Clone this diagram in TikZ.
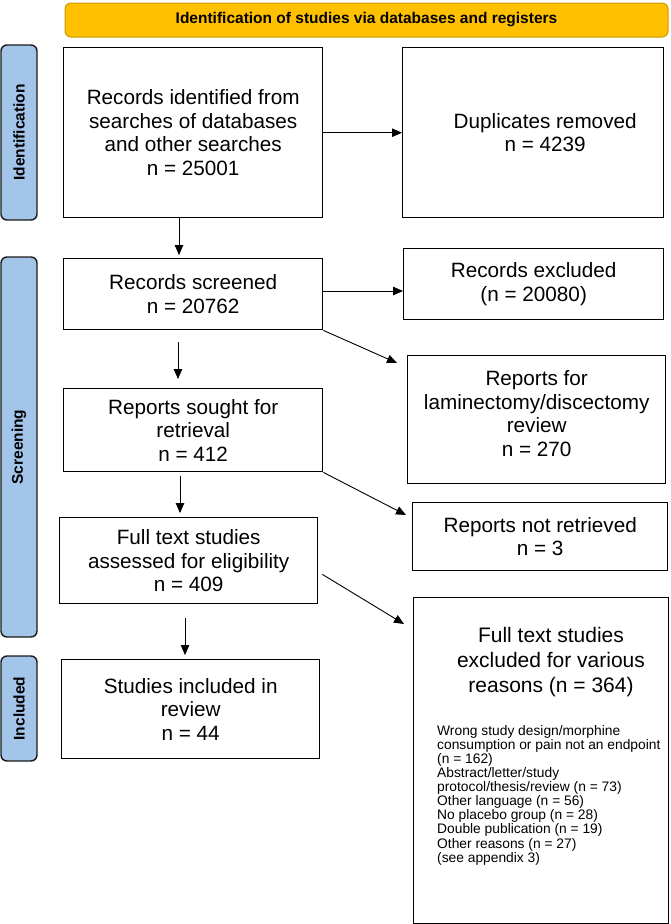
\documentclass[tikz,border=0pt]{standalone}
\usepackage{fontspec}
\setmainfont{Liberation Sans}
\usetikzlibrary{arrows.meta,calc}
\definecolor{bannerfill}{HTML}{FFC000}
\definecolor{bannerline}{HTML}{C99A00}
\definecolor{barfill}{HTML}{A4C5EA}
\definecolor{barline}{HTML}{1A1A1A}
\newcommand\fMain{\fontsize{20.7}{23.5}\selectfont}
\newcommand\fTitle{\fontsize{21}{25}\selectfont}
\newcommand\fSmall{\fontsize{13.8}{14.1}\selectfont}
\newcommand\fHead{\fontsize{15.5}{18}\selectfont\bfseries}
\begin{document}
\begin{tikzpicture}[x=1pt,y=-1pt,
  box/.style={draw=black, line width=1.4pt, fill=white, anchor=north west, inner sep=0pt, align=center, font=\fMain},
  bar/.style={draw=barline, line width=1.4pt, fill=barfill, rounded corners=6pt, rotate=90, minimum height=36pt, inner sep=0pt, font=\fHead},
  banner/.style={draw=bannerline, line width=1pt, fill=bannerfill, rounded corners=6pt, inner sep=0pt, font=\fHead},
  txt/.style={inner sep=0pt, align=center, font=\fMain},
  arr/.style={-{Triangle[length=10pt,width=8.5pt]}, line width=0.9pt, draw=black}]
\useasboundingbox (0,0) rectangle (670,924);

% banner and phase bars
\node[banner, minimum width=603pt, minimum height=34pt] (head) at (366.5,20) {Identification of studies via databases and registers};
\node[bar, minimum width=175pt] (idbar) at (19,132.5) {Identification};
\node[bar, minimum width=380pt] (scbar) at (19,447) {Screening};
\node[bar, minimum width=105pt] (inbar) at (19,708.5) {Included};

% boxes
\node[box, minimum width=259pt, minimum height=170pt] (b1) at (63,47) {Records identified from\\searches of databases\\and other searches\\n = 25001};
\node[box, minimum width=261pt, minimum height=170pt] (b2) at (402,47) {};
\node[txt] (b2t) at ($(b2.center)+(12,0)$) {Duplicates removed\\n = 4239};
\node[box, minimum width=259pt, minimum height=71pt] (b3) at (63,258) {Records screened\\n = 20762};
\node[box, minimum width=260pt, minimum height=71pt] (b4) at (403,248) {Records excluded\\(n = 20080)};
\node[box, minimum width=258pt, minimum height=128pt] (b5) at (407,355) {};
\node[txt] (b5t) at ($(b5.center)+(0,-6)$) {Reports for\\laminectomy/discectomy\\review\\n = 270};
\node[box, minimum width=259pt, minimum height=83pt] (b6) at (63,388) {Reports sought for\\retrieval\\n = 412};
\node[box, minimum width=258pt, minimum height=86pt] (b7) at (59,517) {Full text studies\\assessed for eligibility\\n = 409};
\node[box, minimum width=255pt, minimum height=68pt] (b8) at (412,502) {Reports not retrieved\\n = 3};
\node[box, minimum width=258pt, minimum height=99pt] (b9) at (61,659) {Studies included in\\review\\n = 44};
\node[box, minimum width=255pt, minimum height=326pt] (b10) at (413,597) {};
\node[txt, font=\fTitle] (b10t) at (551,662) {Full text studies\\excluded for various\\reasons (n = 364)};
\node[txt, font=\fSmall, align=left, anchor=north west] (b10b) at (437,725) {Wrong study design/morphine\\consumption or pain not an endpoint\\(n = 162)\\Abstract/letter/study\\protocol/thesis/review (n = 73)\\Other language (n = 56)\\No placebo group (n = 28)\\Double publication (n = 19)\\Other reasons (n = 27)\\(see appendix 3)};

% connectors
\draw[arr] (b1.east) -- (b2.west);
\draw[arr, shorten >=3pt] (179,0 |- b1.south) -- (179,0 |- b3.north);
\draw[arr] (b3.east |- 0,291) -- (b4.west |- 0,291);
\draw[arr] (b3.south east) -- ($(b5.north west)+(-10,8)$);
\draw[arr, shorten <=12pt, shorten >=9pt] (178,0 |- b3.south) -- (178,0 |- b6.north);
\draw[arr] (b6.south east) -- ($(b8.north west)+(-6,13)$);
\draw[arr, shorten <=4pt, shorten >=4pt] (180,0 |- b6.south) -- (180,0 |- b7.north);
\draw[arr] ($(b7.south east)+(4,-30)$) -- ($(b10.north west)+(-9,27)$);
\draw[arr, shorten <=14pt, shorten >=4pt] (185,0 |- b7.south) -- (185,0 |- b9.north);
\end{tikzpicture}
\end{document}
